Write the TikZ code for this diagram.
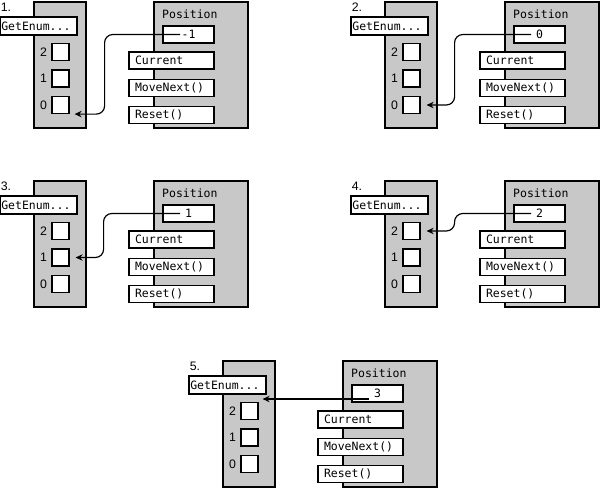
\documentclass[tikz,border=0pt]{standalone}
\usepackage{fontspec}
\setmainfont{Liberation Sans}
\setmonofont{DejaVu Sans Mono}
\usetikzlibrary{arrows.meta, positioning}
\definecolor{panelgray}{RGB}{200,200,200}
\definecolor{dark}{RGB}{0,0,0}

\begin{document}
\begin{tikzpicture}[
    x=0.03cm, y=-0.03cm,
    node distance=0.27cm,
    holder/.style={rectangle, draw=dark, fill=panelgray, line width=1pt, minimum width=1.56cm, minimum height=3.78cm, inner sep=0pt},
    enumbox/.style={holder, minimum width=2.82cm},
    field/.style={rectangle, draw=dark, fill=white, line width=1pt, minimum height=0.51cm, inner sep=0pt, font=\ttfamily\fontsize{9.8}{11}\selectfont},
    getter/.style={field, minimum height=0.54cm, text width=2.23cm, inner xsep=0.04cm, align=left},
    valbox/.style={field, minimum width=1.53cm},
    method/.style={field, text width=2.19cm, inner xsep=0.18cm, align=left},
    caption/.style={font=\ttfamily\fontsize{9.8}{11}\selectfont, inner sep=0pt},
    slot/.style={rectangle, draw=dark, fill=white, line width=1pt, minimum size=0.51cm, inner sep=0pt},
    tag/.style={font=\fontsize{10.5}{12}\selectfont, inner sep=0pt},
    ptr/.style={-{Stealth[length=6pt, width=5.5pt]}, line width=1pt, rounded corners=7pt},
]
\useasboundingbox (0,0) rectangle (600,489);

% Panels
\foreach \i/\ox/\oy/\v in {1/0/0/-1, 2/351/0/0, 3/0/179/1, 4/351/179/2, 5/189/359/3}{
  \begin{scope}[shift={(\ox,\oy)}]
    % Collection
    \node[holder] (coll\i) at (60,65) {};
    \node[tag] (num\i) at (6,7) {\i.};
    \node[getter] (get\i) at (38.5,26) {GetEnum...};
    \node[slot] (s\i-2) at (60.5,52) {};
    \node[slot, below=0.25cm of s\i-2] (s\i-1) {};
    \node[slot, below=0.25cm of s\i-1] (s\i-0) {};
    \node[tag, left=0.13cm of s\i-2] (d\i-2) {2};
    \node[tag, left=0.13cm of s\i-1] (d\i-1) {1};
    \node[tag, left=0.13cm of s\i-0] (d\i-0) {0};

    % Enumerator
    \node[enumbox] (enum\i) at (201,65) {};
    \node[caption, anchor=west] (pos\i) at (162,14) {Position};
    \node[valbox] (val\i) at (188.5,34.5) {\v};
    \node[method] (cur\i) at (171.5,60.5) {Current};
    \node[method, below=0.27cm of cur\i] (mn\i) {MoveNext()};
    \node[method, below=0.27cm of mn\i] (rs\i) {Reset()};
  \end{scope}
}

% Pointers
\coordinate (t1) at ([xshift=0.15cm]s1-0.south east);
\coordinate (t2) at ([xshift=0.18cm]s2-0.east);
\coordinate (t3) at ([xshift=0.18cm]s3-1.east);
\coordinate (t4) at ([xshift=0.18cm]s4-2.east);
\draw[ptr] ([xshift=-0.255cm]val1.center) -| ([xshift=0.9cm]t1) -- (t1);
\draw[ptr] ([xshift=-0.255cm]val2.center) -| ([xshift=0.84cm]t2) -- (t2);
\draw[ptr] ([xshift=-0.255cm]val3.center) -| ([xshift=0.84cm]t3) -- (t3);
\draw[ptr] ([xshift=-0.255cm]val4.center) -| ([xshift=0.84cm]t4) -- (t4);
\coordinate (p5) at ([xshift=-0.255cm, yshift=-0.165cm]val5.center);
\draw[ptr] (p5) -- ([xshift=0.12cm]s5-2.east |- p5);

\end{tikzpicture}
\end{document}
